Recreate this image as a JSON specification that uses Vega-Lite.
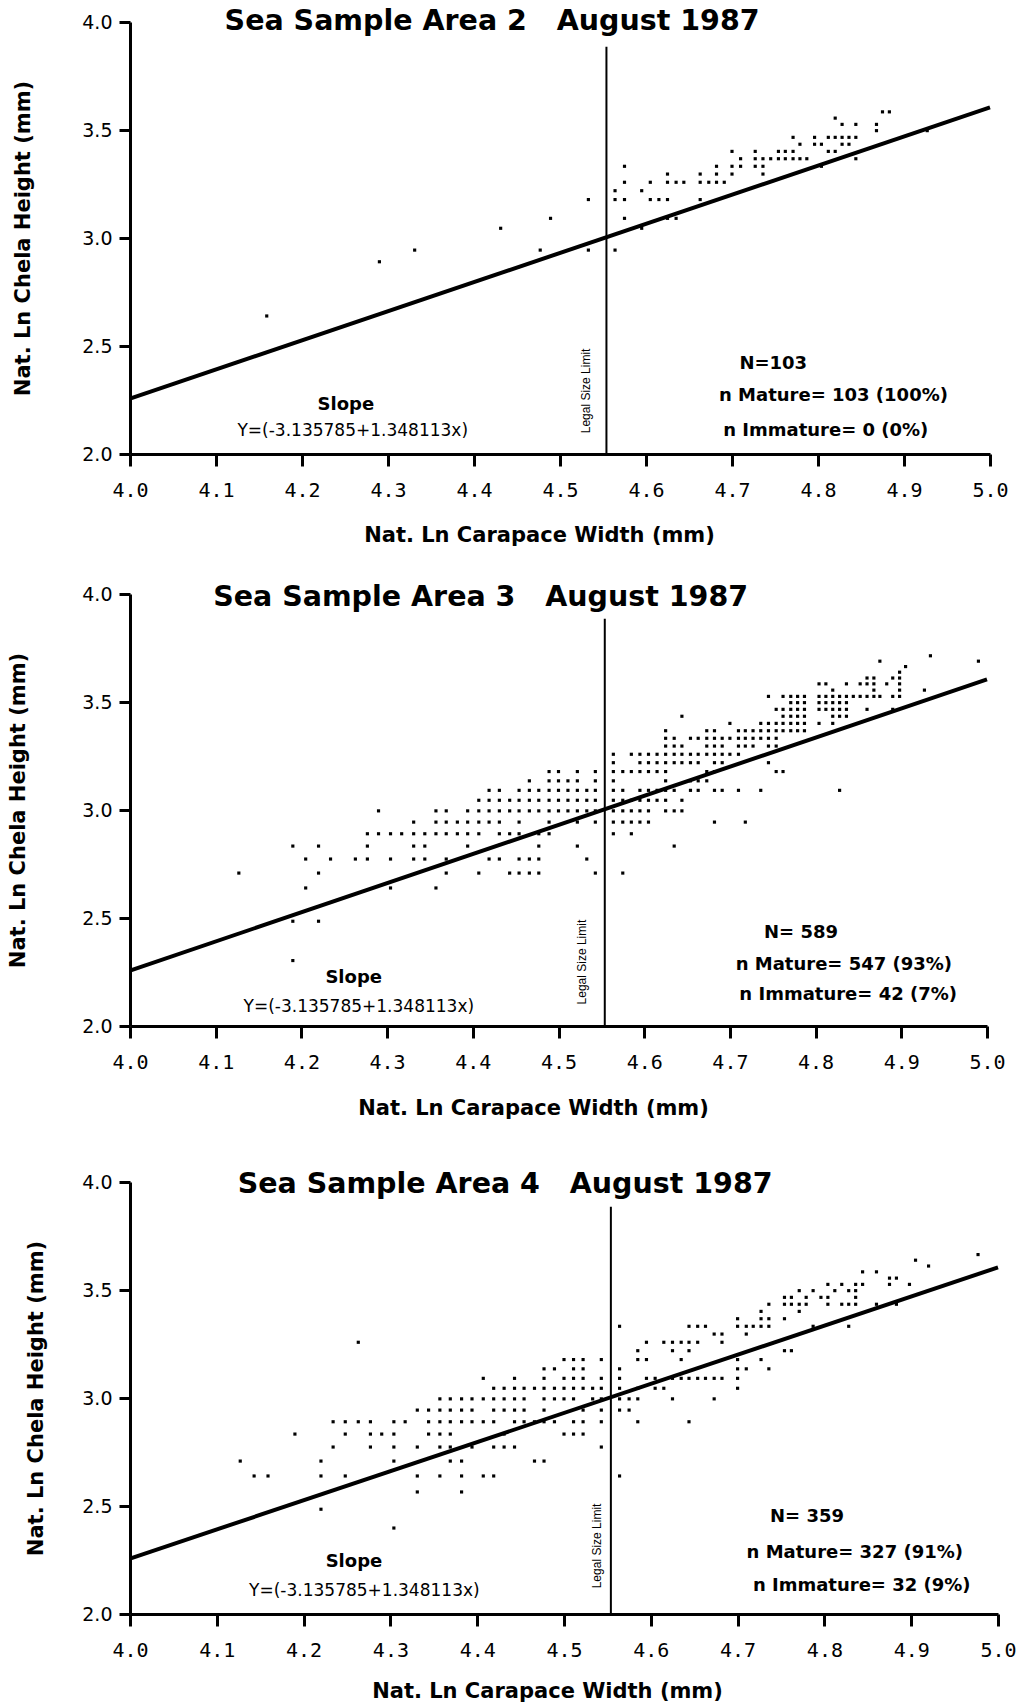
{
  "$schema": "https://vega.github.io/schema/vega-lite/v6.json",
  "background": "white",
  "padding": {"left": 7, "top": 7, "right": 4, "bottom": 2},
  "config": {
    "view": {"stroke": null},
    "font": "DejaVu Sans",
    "axis": {
      "domainColor": "black", "domainWidth": 3,
      "tickColor": "black", "tickWidth": 3,
      "grid": false,
      "labelColor": "black", "titleColor": "black",
      "labelFlush": false, "labelOverlap": false, "labelBound": false,
      "titleFont": "DejaVu Sans", "titleFontWeight": "bold", "titleFontSize": 21
    },
    "axisX": {"tickSize": 12, "labelPadding": 14, "labelFont": "DejaVu Sans Mono", "labelFontSize": 20},
    "axisY": {"tickSize": 11, "labelPadding": 7, "labelFont": "DejaVu Sans", "labelFontSize": 19}
  },
  "datasets": {
    "fit": [{"x": 4.0, "y": 2.256667, "xe": 5.0, "ye": 3.60478}],
    "legal": [{"x": 4.554, "y": 2.0, "ye": 3.885}],
    "notes": [
      {"area": 2, "role": "title", "x": 4.110, "y": 3.961, "label": "Sea Sample Area 2\u00a0\u00a0\u00a0August 1987"},
      {"area": 2, "role": "slope", "x": 4.251, "y": 2.227, "label": "Slope"},
      {"area": 2, "role": "eq", "x": 4.259, "y": 2.106, "label": "Y=(-3.135785+1.348113x)"},
      {"area": 2, "role": "legal", "x": 4.530, "y": 2.292, "label": "Legal Size Limit"},
      {"area": 2, "role": "stat", "x": 4.748, "y": 2.417, "label": "N=103"},
      {"area": 2, "role": "stat", "x": 4.818, "y": 2.269, "label": "n Mature= 103 (100%)"},
      {"area": 2, "role": "stat", "x": 4.809, "y": 2.106, "label": "n Immature= 0 (0%)"},
      {"area": 3, "role": "title", "x": 4.097, "y": 3.944, "label": "Sea Sample Area 3\u00a0\u00a0\u00a0August 1987"},
      {"area": 3, "role": "slope", "x": 4.261, "y": 2.224, "label": "Slope"},
      {"area": 3, "role": "eq", "x": 4.267, "y": 2.090, "label": "Y=(-3.135785+1.348113x)"},
      {"area": 3, "role": "legal", "x": 4.527, "y": 2.296, "label": "Legal Size Limit"},
      {"area": 3, "role": "stat", "x": 4.783, "y": 2.431, "label": "N= 589"},
      {"area": 3, "role": "stat", "x": 4.833, "y": 2.282, "label": "n Mature= 547 (93%)"},
      {"area": 3, "role": "stat", "x": 4.838, "y": 2.144, "label": "n Immature= 42 (7%)"},
      {"area": 4, "role": "title", "x": 4.124, "y": 3.949, "label": "Sea Sample Area 4\u00a0\u00a0\u00a0August 1987"},
      {"area": 4, "role": "slope", "x": 4.258, "y": 2.241, "label": "Slope"},
      {"area": 4, "role": "eq", "x": 4.270, "y": 2.106, "label": "Y=(-3.135785+1.348113x)"},
      {"area": 4, "role": "legal", "x": 4.538, "y": 2.315, "label": "Legal Size Limit"},
      {"area": 4, "role": "stat", "x": 4.780, "y": 2.449, "label": "N= 359"},
      {"area": 4, "role": "stat", "x": 4.835, "y": 2.282, "label": "n Mature= 327 (91%)"},
      {"area": 4, "role": "stat", "x": 4.843, "y": 2.130, "label": "n Immature= 32 (9%)"}
    ],
    "area2": [
      {"x":4.159,"y":2.639},{"x":4.290,"y":2.890},{"x":4.331,"y":2.944},{"x":4.431,"y":3.045},{"x":4.477,"y":2.944},
      {"x":4.489,"y":3.091},{"x":4.533,"y":3.178},{"x":4.533,"y":2.944},{"x":4.564,"y":2.944},{"x":4.564,"y":3.219},
      {"x":4.564,"y":3.178},{"x":4.575,"y":3.332},{"x":4.575,"y":3.258},{"x":4.575,"y":3.178},{"x":4.575,"y":3.091},
      {"x":4.595,"y":3.219},{"x":4.595,"y":3.045},{"x":4.605,"y":3.258},{"x":4.605,"y":3.178},{"x":4.615,"y":3.178},
      {"x":4.625,"y":3.296},{"x":4.625,"y":3.258},{"x":4.625,"y":3.178},{"x":4.625,"y":3.091},{"x":4.635,"y":3.258},
      {"x":4.635,"y":3.091},{"x":4.644,"y":3.258},{"x":4.663,"y":3.296},{"x":4.663,"y":3.258},{"x":4.663,"y":3.178},
      {"x":4.673,"y":3.258},{"x":4.682,"y":3.332},{"x":4.682,"y":3.296},{"x":4.682,"y":3.258},{"x":4.691,"y":3.258},
      {"x":4.700,"y":3.401},{"x":4.700,"y":3.332},{"x":4.700,"y":3.296},{"x":4.710,"y":3.367},{"x":4.710,"y":3.332},
      {"x":4.727,"y":3.401},{"x":4.727,"y":3.367},{"x":4.727,"y":3.332},{"x":4.736,"y":3.367},{"x":4.736,"y":3.332},
      {"x":4.736,"y":3.296},{"x":4.745,"y":3.367},{"x":4.754,"y":3.401},{"x":4.754,"y":3.367},{"x":4.762,"y":3.401},
      {"x":4.762,"y":3.367},{"x":4.771,"y":3.466},{"x":4.771,"y":3.401},{"x":4.771,"y":3.367},{"x":4.779,"y":3.434},
      {"x":4.779,"y":3.367},{"x":4.787,"y":3.367},{"x":4.796,"y":3.466},{"x":4.796,"y":3.434},{"x":4.804,"y":3.434},
      {"x":4.804,"y":3.332},{"x":4.812,"y":3.466},{"x":4.812,"y":3.401},{"x":4.820,"y":3.555},{"x":4.820,"y":3.466},
      {"x":4.820,"y":3.401},{"x":4.828,"y":3.526},{"x":4.828,"y":3.466},{"x":4.828,"y":3.434},{"x":4.836,"y":3.466},
      {"x":4.836,"y":3.434},{"x":4.844,"y":3.526},{"x":4.844,"y":3.466},{"x":4.844,"y":3.367},{"x":4.868,"y":3.526},
      {"x":4.868,"y":3.497},{"x":4.875,"y":3.584},{"x":4.883,"y":3.584},{"x":4.927,"y":3.497}
    ],
    "area3": [
      {"x":4.127,"y":2.708},{"x":4.190,"y":2.833},{"x":4.190,"y":2.485},{"x":4.190,"y":2.303},{"x":4.205,"y":2.773},
      {"x":4.205,"y":2.639},{"x":4.220,"y":2.833},{"x":4.220,"y":2.708},{"x":4.220,"y":2.485},{"x":4.234,"y":2.773},
      {"x":4.263,"y":2.773},{"x":4.277,"y":2.890},{"x":4.277,"y":2.833},{"x":4.277,"y":2.773},{"x":4.290,"y":2.996},
      {"x":4.290,"y":2.890},{"x":4.304,"y":2.890},{"x":4.304,"y":2.773},{"x":4.304,"y":2.639},{"x":4.317,"y":2.890},
      {"x":4.331,"y":2.944},{"x":4.331,"y":2.890},{"x":4.331,"y":2.833},{"x":4.331,"y":2.773},{"x":4.344,"y":2.890},
      {"x":4.344,"y":2.833},{"x":4.344,"y":2.773},{"x":4.357,"y":2.996},{"x":4.357,"y":2.944},{"x":4.357,"y":2.890},
      {"x":4.357,"y":2.639},{"x":4.369,"y":2.996},{"x":4.369,"y":2.944},{"x":4.369,"y":2.890},{"x":4.369,"y":2.773},
      {"x":4.369,"y":2.708},{"x":4.382,"y":2.944},{"x":4.382,"y":2.890},{"x":4.394,"y":2.996},{"x":4.394,"y":2.944},
      {"x":4.394,"y":2.890},{"x":4.394,"y":2.833},{"x":4.407,"y":3.045},{"x":4.407,"y":2.996},{"x":4.407,"y":2.944},
      {"x":4.407,"y":2.890},{"x":4.407,"y":2.708},{"x":4.419,"y":3.091},{"x":4.419,"y":3.045},{"x":4.419,"y":2.996},
      {"x":4.419,"y":2.944},{"x":4.419,"y":2.773},{"x":4.431,"y":3.091},{"x":4.431,"y":3.045},{"x":4.431,"y":2.996},
      {"x":4.431,"y":2.944},{"x":4.431,"y":2.890},{"x":4.431,"y":2.773},{"x":4.443,"y":3.045},{"x":4.443,"y":2.996},
      {"x":4.443,"y":2.890},{"x":4.443,"y":2.708},{"x":4.454,"y":3.091},{"x":4.454,"y":3.045},{"x":4.454,"y":2.996},
      {"x":4.454,"y":2.944},{"x":4.454,"y":2.890},{"x":4.454,"y":2.773},{"x":4.454,"y":2.708},
      {"x":4.466,"y":3.135},{"x":4.466,"y":3.091},{"x":4.466,"y":3.045},{"x":4.466,"y":2.996},{"x":4.466,"y":2.773},{"x":4.466,"y":2.708},
      {"x":4.477,"y":3.091},{"x":4.477,"y":3.045},{"x":4.477,"y":2.996},{"x":4.477,"y":2.890},{"x":4.477,"y":2.833},{"x":4.477,"y":2.773},{"x":4.477,"y":2.708},
      {"x":4.489,"y":3.178},{"x":4.489,"y":3.135},{"x":4.489,"y":3.091},{"x":4.489,"y":3.045},{"x":4.489,"y":2.996},{"x":4.489,"y":2.944},{"x":4.489,"y":2.890},
      {"x":4.500,"y":3.178},{"x":4.500,"y":3.135},{"x":4.500,"y":3.091},{"x":4.500,"y":3.045},{"x":4.500,"y":2.996},
      {"x":4.511,"y":3.135},{"x":4.511,"y":3.091},{"x":4.511,"y":3.045},{"x":4.511,"y":2.996},
      {"x":4.522,"y":3.178},{"x":4.522,"y":3.135},{"x":4.522,"y":3.091},{"x":4.522,"y":3.045},{"x":4.522,"y":2.996},{"x":4.522,"y":2.944},{"x":4.522,"y":2.833},
      {"x":4.533,"y":3.091},{"x":4.533,"y":3.045},{"x":4.533,"y":2.996},{"x":4.533,"y":2.773},
      {"x":4.543,"y":3.178},{"x":4.543,"y":3.135},{"x":4.543,"y":3.091},{"x":4.543,"y":3.045},{"x":4.543,"y":2.996},{"x":4.543,"y":2.944},{"x":4.543,"y":2.708},
      {"x":4.564,"y":3.258},{"x":4.564,"y":3.219},{"x":4.564,"y":3.178},{"x":4.564,"y":3.135},{"x":4.564,"y":3.091},{"x":4.564,"y":3.045},{"x":4.564,"y":2.996},{"x":4.564,"y":2.944},{"x":4.564,"y":2.890},
      {"x":4.575,"y":3.178},{"x":4.575,"y":3.091},{"x":4.575,"y":3.045},{"x":4.575,"y":2.996},{"x":4.575,"y":2.944},{"x":4.575,"y":2.708},
      {"x":4.585,"y":3.258},{"x":4.585,"y":3.178},{"x":4.585,"y":3.045},{"x":4.585,"y":2.996},{"x":4.585,"y":2.944},{"x":4.585,"y":2.890},
      {"x":4.595,"y":3.258},{"x":4.595,"y":3.219},{"x":4.595,"y":3.178},{"x":4.595,"y":3.091},{"x":4.595,"y":3.045},{"x":4.595,"y":2.996},{"x":4.595,"y":2.944},
      {"x":4.605,"y":3.258},{"x":4.605,"y":3.219},{"x":4.605,"y":3.178},{"x":4.605,"y":3.091},{"x":4.605,"y":3.045},{"x":4.605,"y":2.996},{"x":4.605,"y":2.944},
      {"x":4.615,"y":3.258},{"x":4.615,"y":3.219},{"x":4.615,"y":3.178},{"x":4.615,"y":3.091},{"x":4.615,"y":3.045},
      {"x":4.625,"y":3.367},{"x":4.625,"y":3.332},{"x":4.625,"y":3.296},{"x":4.625,"y":3.258},{"x":4.625,"y":3.219},{"x":4.625,"y":3.178},{"x":4.625,"y":3.135},{"x":4.625,"y":3.091},{"x":4.625,"y":3.045},{"x":4.625,"y":2.996},
      {"x":4.635,"y":3.332},{"x":4.635,"y":3.296},{"x":4.635,"y":3.258},{"x":4.635,"y":3.219},{"x":4.635,"y":3.091},{"x":4.635,"y":2.996},{"x":4.635,"y":2.833},
      {"x":4.644,"y":3.434},{"x":4.644,"y":3.296},{"x":4.644,"y":3.258},{"x":4.644,"y":3.219},{"x":4.644,"y":3.045},{"x":4.644,"y":2.996},
      {"x":4.654,"y":3.332},{"x":4.654,"y":3.258},{"x":4.654,"y":3.219},{"x":4.654,"y":3.135},{"x":4.654,"y":3.091},
      {"x":4.663,"y":3.332},{"x":4.663,"y":3.258},{"x":4.663,"y":3.219},{"x":4.663,"y":3.135},{"x":4.663,"y":3.091},
      {"x":4.673,"y":3.367},{"x":4.673,"y":3.332},{"x":4.673,"y":3.296},{"x":4.673,"y":3.258},{"x":4.673,"y":3.178},{"x":4.673,"y":3.135},
      {"x":4.682,"y":3.367},{"x":4.682,"y":3.332},{"x":4.682,"y":3.296},{"x":4.682,"y":3.258},{"x":4.682,"y":3.219},{"x":4.682,"y":3.178},{"x":4.682,"y":3.091},{"x":4.682,"y":2.944},
      {"x":4.691,"y":3.332},{"x":4.691,"y":3.296},{"x":4.691,"y":3.258},{"x":4.691,"y":3.219},{"x":4.691,"y":3.091},
      {"x":4.700,"y":3.401},{"x":4.700,"y":3.332},{"x":4.700,"y":3.258},
      {"x":4.710,"y":3.367},{"x":4.710,"y":3.332},{"x":4.710,"y":3.296},{"x":4.710,"y":3.258},{"x":4.710,"y":3.091},
      {"x":4.718,"y":3.367},{"x":4.718,"y":3.332},{"x":4.718,"y":3.296},{"x":4.718,"y":2.944},
      {"x":4.727,"y":3.367},{"x":4.727,"y":3.332},{"x":4.727,"y":3.296},
      {"x":4.736,"y":3.401},{"x":4.736,"y":3.367},{"x":4.736,"y":3.332},{"x":4.736,"y":3.091},
      {"x":4.745,"y":3.526},{"x":4.745,"y":3.401},{"x":4.745,"y":3.367},{"x":4.745,"y":3.332},{"x":4.745,"y":3.296},{"x":4.745,"y":3.219},
      {"x":4.754,"y":3.466},{"x":4.754,"y":3.401},{"x":4.754,"y":3.367},{"x":4.754,"y":3.332},{"x":4.754,"y":3.296},{"x":4.754,"y":3.178},
      {"x":4.762,"y":3.526},{"x":4.762,"y":3.466},{"x":4.762,"y":3.434},{"x":4.762,"y":3.401},{"x":4.762,"y":3.367},{"x":4.762,"y":3.178},
      {"x":4.771,"y":3.526},{"x":4.771,"y":3.497},{"x":4.771,"y":3.466},{"x":4.771,"y":3.434},{"x":4.771,"y":3.401},{"x":4.771,"y":3.367},
      {"x":4.779,"y":3.526},{"x":4.779,"y":3.497},{"x":4.779,"y":3.466},{"x":4.779,"y":3.434},{"x":4.779,"y":3.401},{"x":4.779,"y":3.367},
      {"x":4.787,"y":3.526},{"x":4.787,"y":3.497},{"x":4.787,"y":3.466},{"x":4.787,"y":3.434},{"x":4.787,"y":3.401},{"x":4.787,"y":3.367},
      {"x":4.804,"y":3.584},{"x":4.804,"y":3.526},{"x":4.804,"y":3.497},{"x":4.804,"y":3.466},{"x":4.804,"y":3.401},
      {"x":4.812,"y":3.584},{"x":4.812,"y":3.526},{"x":4.812,"y":3.497},{"x":4.812,"y":3.466},
      {"x":4.820,"y":3.555},{"x":4.820,"y":3.526},{"x":4.820,"y":3.497},{"x":4.820,"y":3.466},{"x":4.820,"y":3.434},{"x":4.820,"y":3.401},
      {"x":4.828,"y":3.526},{"x":4.828,"y":3.497},{"x":4.828,"y":3.466},{"x":4.828,"y":3.434},{"x":4.828,"y":3.091},
      {"x":4.836,"y":3.584},{"x":4.836,"y":3.526},{"x":4.836,"y":3.497},{"x":4.836,"y":3.466},{"x":4.836,"y":3.434},
      {"x":4.844,"y":3.526},
      {"x":4.852,"y":3.584},{"x":4.852,"y":3.526},
      {"x":4.860,"y":3.611},{"x":4.860,"y":3.584},{"x":4.860,"y":3.526},{"x":4.860,"y":3.466},
      {"x":4.868,"y":3.611},{"x":4.868,"y":3.584},{"x":4.868,"y":3.555},{"x":4.868,"y":3.526},
      {"x":4.875,"y":3.689},{"x":4.875,"y":3.526},
      {"x":4.883,"y":3.584},
      {"x":4.890,"y":3.611},{"x":4.890,"y":3.526},{"x":4.890,"y":3.466},
      {"x":4.898,"y":3.638},{"x":4.898,"y":3.611},{"x":4.898,"y":3.584},{"x":4.898,"y":3.555},{"x":4.898,"y":3.526},
      {"x":4.905,"y":3.664},{"x":4.927,"y":3.555},{"x":4.934,"y":3.714},{"x":4.990,"y":3.689}
    ],
    "area4": [
      {"x":4.127,"y":2.708},{"x":4.143,"y":2.639},{"x":4.159,"y":2.639},{"x":4.190,"y":2.833},{"x":4.220,"y":2.708},
      {"x":4.220,"y":2.639},{"x":4.220,"y":2.485},{"x":4.234,"y":2.890},{"x":4.234,"y":2.773},{"x":4.248,"y":2.890},
      {"x":4.248,"y":2.833},{"x":4.248,"y":2.639},{"x":4.263,"y":3.258},{"x":4.263,"y":2.890},{"x":4.277,"y":2.890},
      {"x":4.277,"y":2.833},{"x":4.277,"y":2.773},{"x":4.290,"y":2.833},{"x":4.304,"y":2.890},{"x":4.304,"y":2.833},
      {"x":4.304,"y":2.773},{"x":4.304,"y":2.708},{"x":4.304,"y":2.398},{"x":4.317,"y":2.890},{"x":4.331,"y":2.944},
      {"x":4.331,"y":2.773},{"x":4.331,"y":2.639},{"x":4.331,"y":2.565},{"x":4.344,"y":2.944},{"x":4.344,"y":2.890},
      {"x":4.344,"y":2.833},{"x":4.357,"y":2.996},{"x":4.357,"y":2.944},{"x":4.357,"y":2.890},{"x":4.357,"y":2.833},
      {"x":4.357,"y":2.773},{"x":4.357,"y":2.639},{"x":4.369,"y":2.996},{"x":4.369,"y":2.944},{"x":4.369,"y":2.890},
      {"x":4.369,"y":2.833},{"x":4.369,"y":2.773},{"x":4.369,"y":2.708},{"x":4.382,"y":2.996},{"x":4.382,"y":2.944},
      {"x":4.382,"y":2.890},{"x":4.382,"y":2.708},{"x":4.382,"y":2.639},{"x":4.382,"y":2.565},{"x":4.394,"y":2.996},
      {"x":4.394,"y":2.944},{"x":4.394,"y":2.890},{"x":4.394,"y":2.773},{"x":4.407,"y":3.091},{"x":4.407,"y":2.996},
      {"x":4.407,"y":2.890},{"x":4.407,"y":2.639},{"x":4.419,"y":3.045},{"x":4.419,"y":2.996},{"x":4.419,"y":2.944},
      {"x":4.419,"y":2.890},{"x":4.419,"y":2.773},{"x":4.419,"y":2.639},{"x":4.431,"y":3.045},{"x":4.431,"y":2.996},
      {"x":4.431,"y":2.944},{"x":4.431,"y":2.833},{"x":4.431,"y":2.773},
      {"x":4.443,"y":3.091},{"x":4.443,"y":3.045},{"x":4.443,"y":2.996},{"x":4.443,"y":2.944},{"x":4.443,"y":2.890},{"x":4.443,"y":2.773},
      {"x":4.454,"y":3.045},{"x":4.454,"y":2.996},{"x":4.454,"y":2.944},{"x":4.454,"y":2.890},
      {"x":4.466,"y":3.045},{"x":4.466,"y":2.890},{"x":4.466,"y":2.708},
      {"x":4.477,"y":3.135},{"x":4.477,"y":3.091},{"x":4.477,"y":3.045},{"x":4.477,"y":2.996},{"x":4.477,"y":2.944},{"x":4.477,"y":2.890},{"x":4.477,"y":2.708},
      {"x":4.489,"y":3.135},{"x":4.489,"y":3.045},{"x":4.489,"y":2.996},{"x":4.489,"y":2.890},
      {"x":4.500,"y":3.178},{"x":4.500,"y":3.091},{"x":4.500,"y":3.045},{"x":4.500,"y":2.996},{"x":4.500,"y":2.833},
      {"x":4.511,"y":3.178},{"x":4.511,"y":3.135},{"x":4.511,"y":3.091},{"x":4.511,"y":3.045},{"x":4.511,"y":2.996},{"x":4.511,"y":2.890},{"x":4.511,"y":2.833},
      {"x":4.522,"y":3.178},{"x":4.522,"y":3.135},{"x":4.522,"y":3.091},{"x":4.522,"y":3.045},{"x":4.522,"y":2.944},{"x":4.522,"y":2.890},{"x":4.522,"y":2.833},
      {"x":4.533,"y":3.045},{"x":4.533,"y":2.996},
      {"x":4.543,"y":3.178},{"x":4.543,"y":3.091},{"x":4.543,"y":3.045},{"x":4.543,"y":2.996},{"x":4.543,"y":2.944},{"x":4.543,"y":2.890},{"x":4.543,"y":2.773},
      {"x":4.564,"y":3.332},{"x":4.564,"y":3.135},{"x":4.564,"y":3.091},{"x":4.564,"y":3.045},{"x":4.564,"y":2.996},{"x":4.564,"y":2.944},{"x":4.564,"y":2.639},
      {"x":4.575,"y":2.996},{"x":4.575,"y":2.944},
      {"x":4.585,"y":3.219},{"x":4.585,"y":3.178},{"x":4.585,"y":3.045},{"x":4.585,"y":2.996},{"x":4.585,"y":2.890},
      {"x":4.595,"y":3.258},{"x":4.595,"y":3.178},{"x":4.595,"y":3.091},
      {"x":4.605,"y":3.091},{"x":4.605,"y":3.045},
      {"x":4.615,"y":3.258},{"x":4.615,"y":3.045},
      {"x":4.625,"y":3.258},{"x":4.625,"y":3.219},{"x":4.625,"y":3.091},{"x":4.625,"y":2.996},
      {"x":4.635,"y":3.258},{"x":4.635,"y":3.178},{"x":4.635,"y":3.091},
      {"x":4.644,"y":3.332},{"x":4.644,"y":3.258},{"x":4.644,"y":3.219},{"x":4.644,"y":3.091},{"x":4.644,"y":2.890},
      {"x":4.654,"y":3.332},{"x":4.654,"y":3.258},{"x":4.654,"y":3.091},
      {"x":4.663,"y":3.332},{"x":4.663,"y":3.091},
      {"x":4.673,"y":3.296},{"x":4.673,"y":3.091},{"x":4.673,"y":2.996},
      {"x":4.682,"y":3.296},{"x":4.682,"y":3.258},{"x":4.682,"y":3.091},
      {"x":4.700,"y":3.367},{"x":4.700,"y":3.332},{"x":4.700,"y":3.178},{"x":4.700,"y":3.135},{"x":4.700,"y":3.091},{"x":4.700,"y":3.045},
      {"x":4.710,"y":3.332},{"x":4.710,"y":3.296},{"x":4.710,"y":3.135},
      {"x":4.718,"y":3.332},
      {"x":4.727,"y":3.401},{"x":4.727,"y":3.367},{"x":4.727,"y":3.332},{"x":4.727,"y":3.178},
      {"x":4.736,"y":3.434},{"x":4.736,"y":3.367},{"x":4.736,"y":3.332},{"x":4.736,"y":3.135},
      {"x":4.754,"y":3.466},{"x":4.754,"y":3.434},{"x":4.754,"y":3.367},{"x":4.754,"y":3.219},
      {"x":4.762,"y":3.466},{"x":4.762,"y":3.434},{"x":4.762,"y":3.219},
      {"x":4.771,"y":3.497},{"x":4.771,"y":3.434},{"x":4.771,"y":3.401},
      {"x":4.779,"y":3.466},{"x":4.779,"y":3.434},
      {"x":4.787,"y":3.497},{"x":4.787,"y":3.332},
      {"x":4.796,"y":3.466},
      {"x":4.804,"y":3.526},{"x":4.804,"y":3.466},{"x":4.804,"y":3.434},
      {"x":4.812,"y":3.497},
      {"x":4.820,"y":3.526},{"x":4.820,"y":3.434},
      {"x":4.828,"y":3.497},{"x":4.828,"y":3.434},{"x":4.828,"y":3.332},
      {"x":4.836,"y":3.526},{"x":4.836,"y":3.497},{"x":4.836,"y":3.466},{"x":4.836,"y":3.434},
      {"x":4.844,"y":3.584},{"x":4.844,"y":3.526},
      {"x":4.860,"y":3.584},{"x":4.860,"y":3.434},
      {"x":4.875,"y":3.555},{"x":4.875,"y":3.526},
      {"x":4.883,"y":3.555},{"x":4.883,"y":3.434},
      {"x":4.898,"y":3.526},{"x":4.905,"y":3.638},{"x":4.920,"y":3.611},{"x":4.977,"y":3.664}
    ]
  },
  "bounds": "flush",
  "spacing": 140,
  "vconcat": [
    {
      "width": 860, "height": 432,
      "encoding": {
        "x": {"field": "x", "type": "quantitative", "scale": {"domain": [4, 5], "nice": false, "zero": false},
              "axis": {"title": "Nat. Ln Carapace Width (mm)", "values": [4, 4.1, 4.2, 4.3, 4.4, 4.5, 4.6, 4.7, 4.8, 4.9, 5], "format": ".1f", "titleX": 409, "titlePadding": 24}},
        "y": {"field": "y", "type": "quantitative", "scale": {"domain": [2, 4], "nice": false, "zero": false},
              "axis": {"title": "Nat. Ln Chela Height (mm)", "values": [2, 2.5, 3, 3.5, 4], "format": ".1f", "titlePadding": 48}}
      },
      "layer": [
        {"data": {"name": "area2"}, "mark": {"type": "square", "size": 10, "color": "black", "opacity": 1}},
        {"data": {"name": "fit"}, "mark": {"type": "rule", "strokeWidth": 4, "color": "black"}, "encoding": {"x2": {"field": "xe"}, "y2": {"field": "ye"}}},
        {"data": {"name": "legal"}, "mark": {"type": "rule", "strokeWidth": 2, "color": "black"}, "encoding": {"y2": {"field": "ye"}}},
        {"data": {"name": "notes"}, "transform": [{"filter": "datum.area === 2 && datum.role === 'title'"}],
         "mark": {"type": "text", "fontWeight": "bold", "fontSize": 28.5, "align": "left", "baseline": "alphabetic", "color": "black"},
         "encoding": {"text": {"field": "label"}}},
        {"data": {"name": "notes"}, "transform": [{"filter": "datum.area === 2 && (datum.role === 'slope' || datum.role === 'stat')"}],
         "mark": {"type": "text", "fontWeight": "bold", "fontSize": 18, "align": "center", "baseline": "middle", "color": "black"},
         "encoding": {"text": {"field": "label"}}},
        {"data": {"name": "notes"}, "transform": [{"filter": "datum.area === 2 && datum.role === 'eq'"}],
         "mark": {"type": "text", "fontSize": 17, "align": "center", "baseline": "middle", "color": "black"},
         "encoding": {"text": {"field": "label"}}},
        {"data": {"name": "notes"}, "transform": [{"filter": "datum.area === 2 && datum.role === 'legal'"}],
         "mark": {"type": "text", "font": "Liberation Sans", "fontSize": 12, "angle": 270, "align": "center", "baseline": "middle", "color": "black"},
         "encoding": {"text": {"field": "label"}}}
      ]
    },
    {
      "bounds": "flush",
      "spacing": 156,
      "vconcat": [
        {
          "width": 857, "height": 432,
          "encoding": {
            "x": {"field": "x", "type": "quantitative", "scale": {"domain": [4, 5], "nice": false, "zero": false},
                  "axis": {"title": "Nat. Ln Carapace Width (mm)", "values": [4, 4.1, 4.2, 4.3, 4.4, 4.5, 4.6, 4.7, 4.8, 4.9, 5], "format": ".1f", "titleX": 403, "titlePadding": 25}},
            "y": {"field": "y", "type": "quantitative", "scale": {"domain": [2, 4], "nice": false, "zero": false},
                  "axis": {"title": "Nat. Ln Chela Height (mm)", "values": [2, 2.5, 3, 3.5, 4], "format": ".1f", "titlePadding": 53}}
          },
          "layer": [
            {"data": {"name": "area3"}, "mark": {"type": "square", "size": 10, "color": "black", "opacity": 1}},
            {"data": {"name": "fit"}, "mark": {"type": "rule", "strokeWidth": 4, "color": "black"}, "encoding": {"x2": {"field": "xe"}, "y2": {"field": "ye"}}},
            {"data": {"name": "legal"}, "mark": {"type": "rule", "strokeWidth": 2, "color": "black"}, "encoding": {"y2": {"field": "ye"}}},
            {"data": {"name": "notes"}, "transform": [{"filter": "datum.area === 3 && datum.role === 'title'"}],
             "mark": {"type": "text", "fontWeight": "bold", "fontSize": 28.5, "align": "left", "baseline": "alphabetic", "color": "black"},
             "encoding": {"text": {"field": "label"}}},
            {"data": {"name": "notes"}, "transform": [{"filter": "datum.area === 3 && (datum.role === 'slope' || datum.role === 'stat')"}],
             "mark": {"type": "text", "fontWeight": "bold", "fontSize": 18, "align": "center", "baseline": "middle", "color": "black"},
             "encoding": {"text": {"field": "label"}}},
            {"data": {"name": "notes"}, "transform": [{"filter": "datum.area === 3 && datum.role === 'eq'"}],
             "mark": {"type": "text", "fontSize": 17, "align": "center", "baseline": "middle", "color": "black"},
             "encoding": {"text": {"field": "label"}}},
            {"data": {"name": "notes"}, "transform": [{"filter": "datum.area === 3 && datum.role === 'legal'"}],
             "mark": {"type": "text", "font": "Liberation Sans", "fontSize": 12, "angle": 270, "align": "center", "baseline": "middle", "color": "black"},
             "encoding": {"text": {"field": "label"}}}
          ]
        },
        {
          "width": 868, "height": 432,
          "encoding": {
            "x": {"field": "x", "type": "quantitative", "scale": {"domain": [4, 5], "nice": false, "zero": false},
                  "axis": {"title": "Nat. Ln Carapace Width (mm)", "values": [4, 4.1, 4.2, 4.3, 4.4, 4.5, 4.6, 4.7, 4.8, 4.9, 5], "format": ".1f", "titleX": 417, "titlePadding": 20}},
            "y": {"field": "y", "type": "quantitative", "scale": {"domain": [2, 4], "nice": false, "zero": false},
                  "axis": {"title": "Nat. Ln Chela Height (mm)", "values": [2, 2.5, 3, 3.5, 4], "format": ".1f", "titlePadding": 35}}
          },
          "layer": [
            {"data": {"name": "area4"}, "mark": {"type": "square", "size": 10, "color": "black", "opacity": 1}},
            {"data": {"name": "fit"}, "mark": {"type": "rule", "strokeWidth": 4, "color": "black"}, "encoding": {"x2": {"field": "xe"}, "y2": {"field": "ye"}}},
            {"data": {"name": "legal"}, "mark": {"type": "rule", "strokeWidth": 2, "color": "black"}, "encoding": {"y2": {"field": "ye"}}},
            {"data": {"name": "notes"}, "transform": [{"filter": "datum.area === 4 && datum.role === 'title'"}],
             "mark": {"type": "text", "fontWeight": "bold", "fontSize": 28.5, "align": "left", "baseline": "alphabetic", "color": "black"},
             "encoding": {"text": {"field": "label"}}},
            {"data": {"name": "notes"}, "transform": [{"filter": "datum.area === 4 && (datum.role === 'slope' || datum.role === 'stat')"}],
             "mark": {"type": "text", "fontWeight": "bold", "fontSize": 18, "align": "center", "baseline": "middle", "color": "black"},
             "encoding": {"text": {"field": "label"}}},
            {"data": {"name": "notes"}, "transform": [{"filter": "datum.area === 4 && datum.role === 'eq'"}],
             "mark": {"type": "text", "fontSize": 17, "align": "center", "baseline": "middle", "color": "black"},
             "encoding": {"text": {"field": "label"}}},
            {"data": {"name": "notes"}, "transform": [{"filter": "datum.area === 4 && datum.role === 'legal'"}],
             "mark": {"type": "text", "font": "Liberation Sans", "fontSize": 12, "angle": 270, "align": "center", "baseline": "middle", "color": "black"},
             "encoding": {"text": {"field": "label"}}}
          ]
        }
      ]
    }
  ]
}
